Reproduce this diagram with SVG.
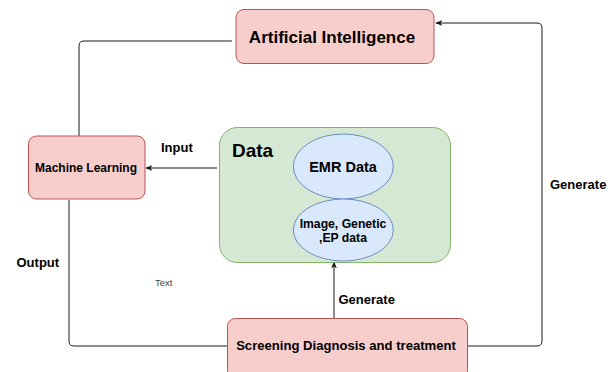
<svg xmlns="http://www.w3.org/2000/svg" width="613" height="372" viewBox="0 0 613 372">
<style>
.red{fill:#f8cecc;stroke:#b85450;stroke-width:1}
.green{fill:#d5e8d4;stroke:#82b366;stroke-width:1}
.blue{fill:#dae8fc;stroke:#6c8ebf;stroke-width:1}
.conn{fill:none;stroke:#1a1a1a;stroke-width:1}
text{font-family:"Liberation Sans",Arial,sans-serif;font-weight:bold;fill:#000}
.lbl{font-size:13px}
.small{font-size:9.5px;font-weight:normal;fill:#444}
</style>
<defs>
<marker id="arr" viewBox="0 0 10 10" refX="9" refY="5" markerWidth="7" markerHeight="7" orient="auto" markerUnits="userSpaceOnUse">
<path d="M0,1 L10,5 L0,9 L2.5,5 Z" fill="#1a1a1a"/>
</marker>
</defs>
<g id="connectors">
<path class="conn" d="M232,41 H84 Q79,41 79,46 V136"/>
<path class="conn" d="M217,168 H146" marker-end="url(#arr)"/>
<path class="conn" d="M69,200 V341 Q69,346 74,346 H227"/>
<path class="conn" d="M334,318 V262" marker-end="url(#arr)"/>
<path class="conn" d="M467,346 H537 Q542,346 542,341 V28 Q542,23 537,23 H436" marker-end="url(#arr)"/>
</g>
<g id="ai">
<rect class="red" x="236" y="9.5" width="198" height="54" rx="8"/>
<text x="332" y="43" font-size="17" text-anchor="middle">Artificial Intelligence</text>
</g>
<g id="ml">
<rect class="red" x="28.5" y="136" width="116.5" height="63" rx="8"/>
<text x="86" y="171.5" font-size="12" text-anchor="middle">Machine Learning</text>
</g>
<g id="data">
<rect class="green" x="219.5" y="127.5" width="231" height="135" rx="18"/>
<text x="232" y="156.5" font-size="19">Data</text>
</g>
<g id="emr">
<ellipse class="blue" cx="343.3" cy="166.5" rx="50" ry="32.5"/>
<text x="343" y="171.5" font-size="14.5" text-anchor="middle">EMR Data</text>
</g>
<g id="image">
<ellipse class="blue" cx="343.3" cy="230" rx="50" ry="31"/>
<text x="343" y="227.5" font-size="12.2" text-anchor="middle">Image, Genetic</text>
<text x="343" y="241.5" font-size="12.2" text-anchor="middle">,EP data</text>
</g>
<g id="screening">
<rect class="red" x="227.5" y="318.5" width="240" height="60" rx="8"/>
<text x="346" y="350" font-size="13.1" text-anchor="middle">Screening Diagnosis and treatment</text>
</g>
<g id="labels">
<text class="lbl" x="161" y="152">Input</text>
<text class="lbl" x="16.5" y="267">Output</text>
<text class="lbl" x="338.5" y="304">Generate</text>
<text class="lbl" x="550" y="189">Generate</text>
<text class="small" x="155" y="286">Text</text>
</g>
</svg>
